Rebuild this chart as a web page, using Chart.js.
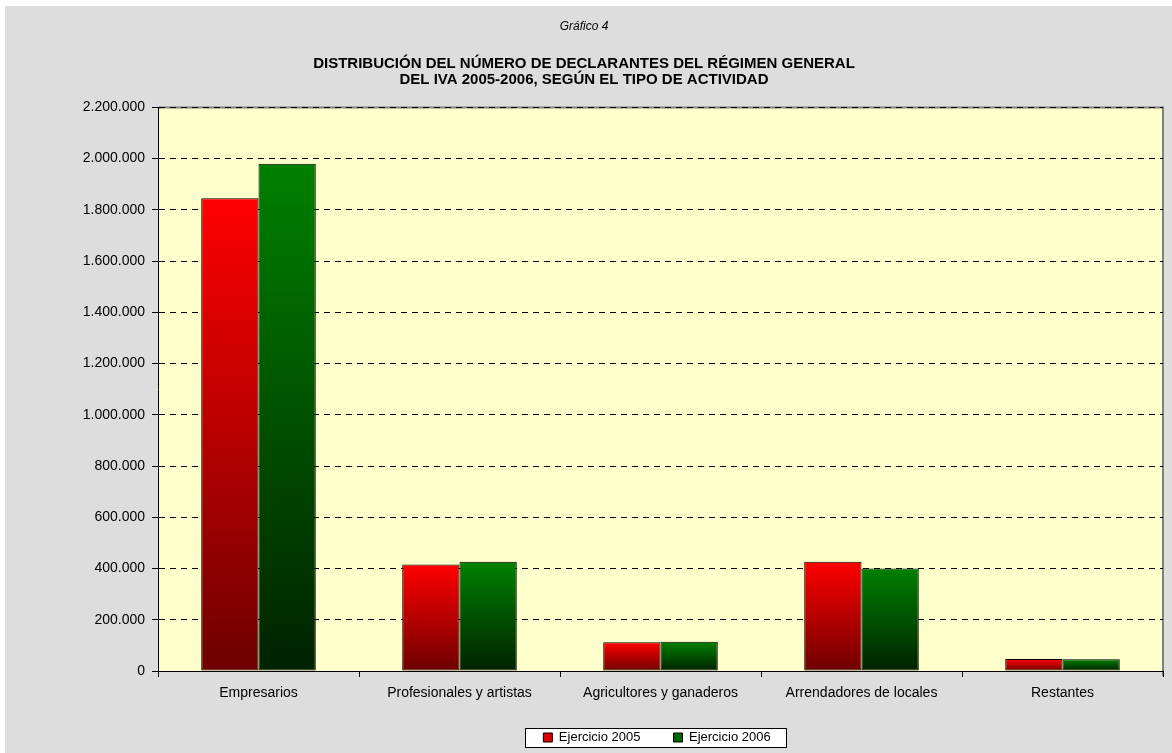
<!DOCTYPE html>
<html>
<head>
<meta charset="utf-8">
<script src="https://cdn.jsdelivr.net/npm/chart.js@4.4.0/dist/chart.umd.min.js"></script>
<style>
  html, body { margin: 0; padding: 0; background: #ffffff; }
  #wrap { width: 1172px; height: 753px; }
</style>
</head>
<body>
<div id="wrap"><canvas id="chart" width="1172" height="753"></canvas></div>
<script>
// values
const categories = [
  "Empresarios",
  "Profesionales y artistas",
  "Agricultores y ganaderos",
  "Arrendadores de locales",
  "Restantes",
];
const seriesNames = ["Ejercicio 2005", "Ejercicio 2006"];
const values2005 = [1845000, 416000, 112000, 426000, 47000];
const values2006 = [1980000, 426000, 114000, 400000, 46000];
const yTicks = [0, 200000, 400000, 600000, 800000, 1000000, 1200000, 1400000, 1600000, 1800000, 2000000, 2200000];

const FONT = "'Liberation Sans', Arial, sans-serif";
const fmt = (v) => String(v).replace(/\B(?=(\d{3})+(?!\d))/g, ".");

// vertical gradient per bar, from the bar top down to the baseline
const barGradient = (top, bottom) => (ctx) => {
  const chart = ctx.chart;
  const y = chart.scales && chart.scales.y;
  if (!y || ctx.type !== "data") return top;
  const v = ctx.parsed ? ctx.parsed.y : ctx.raw;
  const y0 = y.getPixelForValue(0);
  const y1 = y.getPixelForValue(v);
  if (!isFinite(y0) || !isFinite(y1) || y0 === y1) return top;
  const g = chart.ctx.createLinearGradient(0, y1, 0, y0);
  g.addColorStop(0, top);
  g.addColorStop(1, bottom);
  return g;
};

const backdrop = {
  id: "backdrop",
  afterLayout(chart) {
    // legend sits under the plot centre, a bit closer to the axis
    const lg = chart.legend;
    if (!lg) return;
    const dx = 657 - (lg.left + lg.right) / 2;
    const dy = 698 - lg.top;
    lg.left += dx;
    lg.right += dx;
    lg.top += dy;
    lg.bottom += dy;
  },
  beforeDraw(chart) {
    const { ctx, chartArea: a } = chart;
    ctx.save();
    ctx.fillStyle = "#ffffff";
    ctx.fillRect(0, 0, chart.width, chart.height);
    ctx.fillStyle = "#dddddd";
    ctx.fillRect(5, 6, chart.width - 5, chart.height - 6);
    ctx.fillStyle = "#ffffcc";
    ctx.fillRect(a.left, a.top, a.right - a.left, a.bottom - a.top);
    // gray frame on top and right
    ctx.strokeStyle = "#808080";
    ctx.lineWidth = 2;
    ctx.beginPath();
    ctx.moveTo(a.left, a.top);
    ctx.lineTo(a.right, a.top);
    ctx.lineTo(a.right, a.bottom + 5);
    ctx.stroke();
    // legend frame
    const lg = chart.legend;
    if (lg && lg.legendHitBoxes && lg.legendHitBoxes.length) {
      const boxes = lg.legendHitBoxes;
      const first = boxes[0];
      const last = boxes[boxes.length - 1];
      const x0 = Math.round(first.left - 18), x1 = Math.round(last.left + last.width + 15);
      const y0 = Math.round(first.top - 3), y1 = Math.round(first.top + first.height + 3);
      ctx.fillStyle = "#ffffff";
      ctx.fillRect(x0, y0, x1 - x0, y1 - y0);
      ctx.strokeStyle = "#000000";
      ctx.lineWidth = 1;
      ctx.strokeRect(x0 + 0.5, y0 + 0.5, x1 - x0, y1 - y0);
    }
    ctx.restore();
  },
};

new Chart(document.getElementById("chart"), {
  type: "bar",
  data: {
    labels: categories,
    datasets: [
      {
        label: seriesNames[0],
        data: values2005,
        backgroundColor: barGradient("#ff0000", "#6e0000"),
        borderColor: "#000000",
        borderWidth: 1,
        borderSkipped: false,
        categoryPercentage: 0.57,
        barPercentage: 1.0,
      },
      {
        label: seriesNames[1],
        data: values2006,
        backgroundColor: barGradient("#008000", "#002200"),
        borderColor: "#000000",
        borderWidth: 1,
        borderSkipped: false,
        categoryPercentage: 0.57,
        barPercentage: 1.0,
      },
    ],
  },
  options: {
    responsive: false,
    animation: false,
    devicePixelRatio: 1,
    layout: { padding: { left: 5, right: 9, top: 0, bottom: -5 } },
    plugins: {
      title: {
        display: true,
        text: "Gráfico 4",
        color: "#000000",
        font: { family: FONT, size: 12, style: "italic", weight: "normal", lineHeight: 1.2 },
        padding: { top: 19, bottom: 22 },
      },
      subtitle: {
        display: true,
        text: [
          "DISTRIBUCIÓN DEL NÚMERO DE DECLARANTES DEL RÉGIMEN GENERAL",
          "DEL IVA 2005-2006, SEGÚN EL TIPO DE ACTIVIDAD",
        ],
        color: "#000000",
        font: { family: FONT, size: 15, weight: "bold", lineHeight: "16px" },
        padding: { top: 0, bottom: 20 },
      },
      legend: {
        position: "bottom",
        labels: {
          color: "#000000",
          font: { family: FONT, size: 13 },
          boxWidth: 9,
          boxHeight: 9,
          padding: 33,
          generateLabels(chart) {
            return chart.data.datasets.map((ds, i) => ({
              text: ds.label,
              fillStyle: i === 0 ? "#e00000" : "#006400",
              strokeStyle: "#000000",
              lineWidth: 1,
              datasetIndex: i,
              hidden: false,
            }));
          },
        },
      },
      tooltip: { enabled: false },
    },
    scales: {
      x: {
        offset: true,
        afterFit(scale) { scale.height = 31; },
        grid: {
          offset: true,
          drawOnChartArea: false,
          drawTicks: true,
          tickLength: 6,
          color: "#000000",
        },
        border: { display: true, color: "#000000", width: 1 },
        ticks: {
          color: "#000000",
          font: { family: FONT, size: 14 },
          padding: 8,
          maxRotation: 0,
        },
      },
      y: {
        min: 0,
        max: 2200000,
        afterFit(scale) { scale.width = 153; },
        afterBuildTicks(scale) { scale.ticks = yTicks.map((v) => ({ value: v })); },
        grid: {
          color: "#000000",
          lineWidth: 1,
          drawTicks: true,
          tickLength: 6,
          tickBorderDash: [],
          tickColor: "#000000",
        },
        border: { display: true, color: "#000000", width: 1, dash: [6, 5] },
        ticks: {
          color: "#000000",
          font: { family: FONT, size: 14 },
          padding: 7,
          callback: (v) => fmt(v),
        },
      },
    },
  },
  plugins: [backdrop],
});
</script>
</body>
</html>
